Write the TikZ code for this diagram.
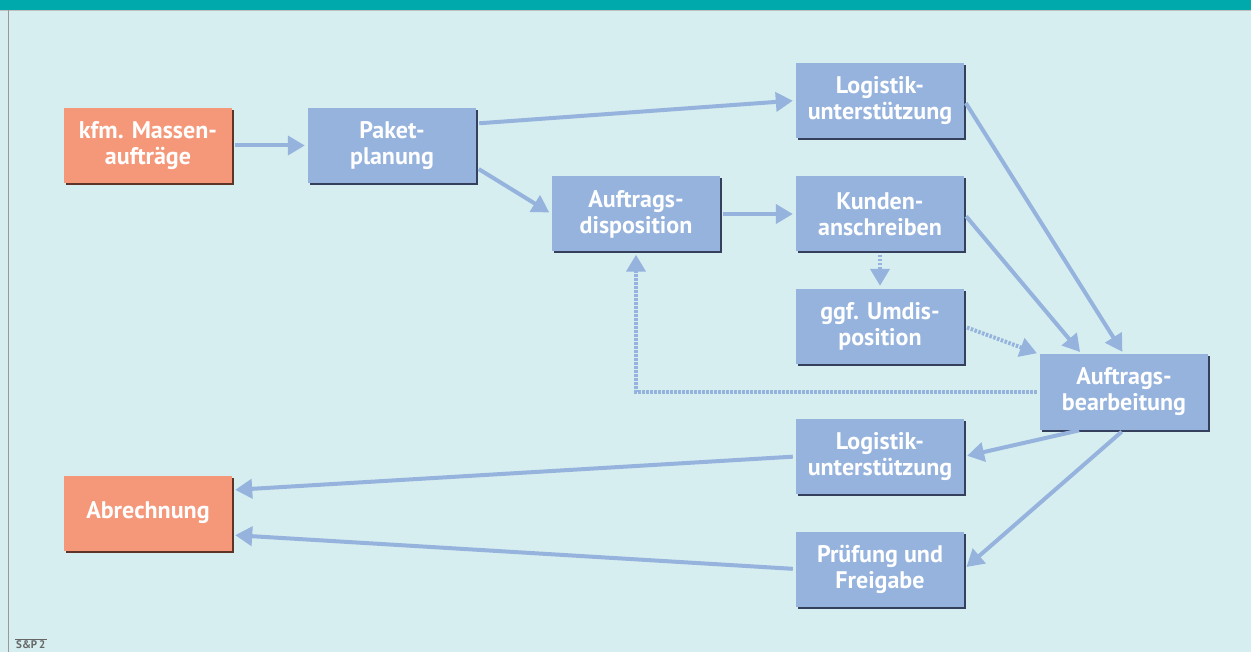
\documentclass[tikz,border=0pt]{standalone}
\usepackage{fontspec}
\setmainfont{PT Sans}
\usetikzlibrary{arrows.meta, positioning, shadows}

\definecolor{boxblue}{HTML}{95B3DD}
\definecolor{boxorange}{HTML}{F5987A}
\definecolor{bgcyan}{HTML}{D6EEF0}
\definecolor{barteal}{HTML}{00A9AC}
\definecolor{shadownavy}{HTML}{34405C}
\definecolor{shadowbrown}{HTML}{5C3428}

\begin{document}
\begin{tikzpicture}[x=1pt, y=-1pt,
    % Box styles
    boxbase/.style={
        rectangle,
        minimum width=168pt,
        minimum height=75pt,
        inner sep=0pt,
        align=center,
        text=white,
        font=\fontsize{24}{26}\selectfont\bfseries,
        drop shadow={shadow xshift=2pt, shadow yshift=-2pt, opacity=1, fill=#1}
    },
    stepbox/.style={boxbase=shadownavy, fill=boxblue},
    endbox/.style={boxbase=shadowbrown, fill=boxorange},
    % Arrow styles
    arrow/.style={
        -{Triangle[length=17pt, width=19pt]},
        line width=4pt,
        boxblue,
        shorten <=3pt,
        shorten >=3pt
    },
    dotarrow/.style={
        arrow,
        dash pattern=on 2.5pt off 1.5pt
    }
]

% === Frame ===
\useasboundingbox (0,0) rectangle (1251,652);
\fill[bgcyan] (0,0) rectangle (1251,652);
\fill[barteal] (0,0) rectangle (1251,10);
\draw[black!25, line width=1pt] (0,10.5) -- (1251,10.5);
\draw[black!40, line width=1pt] (8,10.5) -- (8,652);

% === Boxes ===
\node[endbox] (orders) at (148,145.5) {kfm. Massen-\\aufträge};
\node[stepbox] (packet) at (392,145.5) {Paket-\\planung};
\node[stepbox] (logtop) at (880,100.5) {Logistik-\\unterstützung};
\node[stepbox] (dispo) at (636,214) {Auftrags-\\disposition};
\node[stepbox] (letter) at (880,214) {Kunden-\\anschreiben};
\node[stepbox] (redispo) at (880,326.5) {ggf. Umdis-\\position};
\node[stepbox] (process) at (1124,392) {Auftrags-\\bearbeitung};
\node[stepbox] (logbot) at (880,456.5) {Logistik-\\unterstützung};
\node[endbox] (billing) at (148,513) {Abrechnung};
\node[stepbox] (check) at (880,569) {Prüfung und\\Freigabe};

% === Arrows ===
\draw[arrow] (orders) -- (packet);
\draw[arrow] ([yshift=22pt]packet.east) -- (logtop.west);
\draw[arrow] ([yshift=-22pt]packet.east) -- (dispo.west);
\draw[arrow] (dispo) -- (letter);
\draw[dotarrow] (letter) -- (redispo);
\draw[dotarrow] (redispo.east) -- (process.north west);
\draw[arrow] (logtop.east) -- (process.north);
\draw[arrow] (letter.east) -- ([xshift=-42pt]process.north);
\draw[dotarrow] (process.west) -| (dispo.south);
\draw[arrow] ([xshift=-42pt]process.south) -- (logbot.east);
\draw[arrow] (process.south) -- (check.east);
\draw[arrow] (logbot.west) -- ([yshift=23pt]billing.east);
\draw[arrow] (check.west) -- ([yshift=-22pt]billing.east);

% === Source mark ===
\node[font=\fontsize{11}{12}\selectfont\bfseries, text=black!60, inner sep=1pt, anchor=south west] (source) at (15,650) {S\&P\,2};
\draw[black!60, line width=0.7pt] (source.north west) -- (source.north east);

\end{tikzpicture}
\end{document}
